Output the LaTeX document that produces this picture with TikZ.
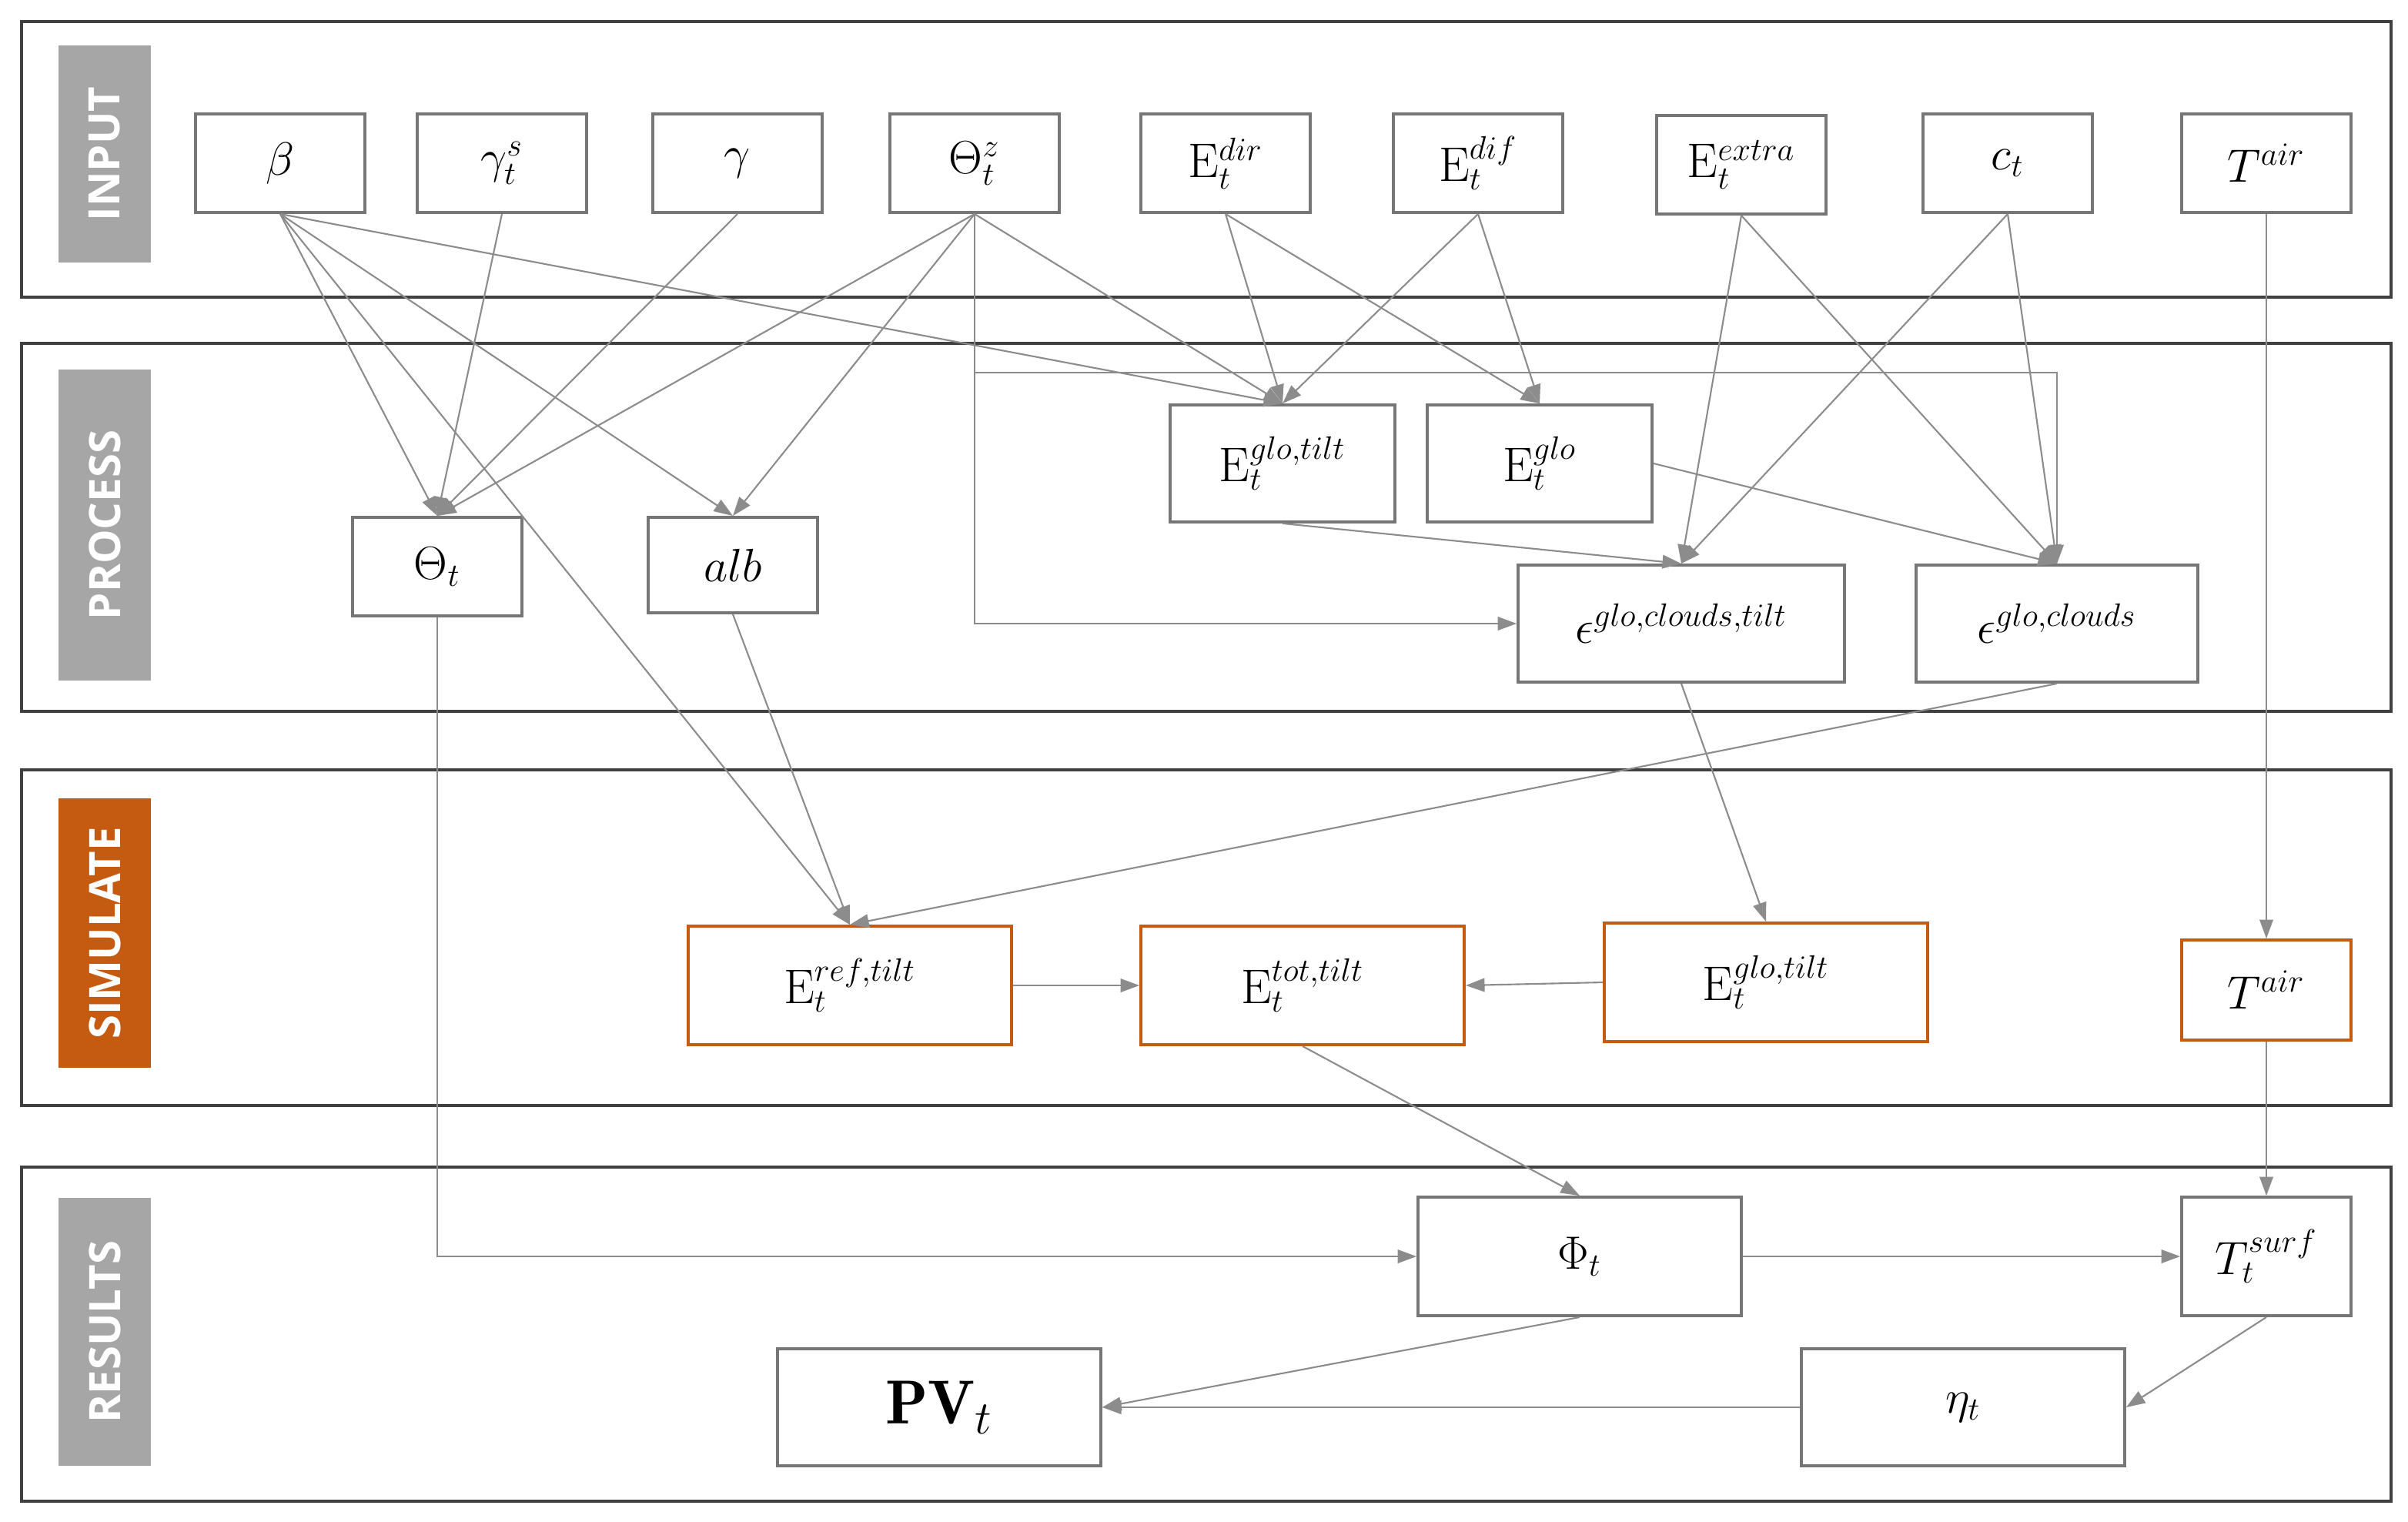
\documentclass[tikz,border=0pt]{standalone}
\usepackage{fontspec}
\newfontfamily\labfont{Open Sans}
\usetikzlibrary{arrows.meta}
\definecolor{bandc}{RGB}{64,64,64}
\definecolor{boxc}{RGB}{118,118,118}
\definecolor{edgec}{RGB}{140,140,140}
\definecolor{labg}{RGB}{166,166,166}
\definecolor{orng}{RGB}{197,90,17}
\begin{document}
\begin{tikzpicture}[x=0.02cm,y=-0.02cm,
 band/.style={draw=bandc,line width=1.3pt},
 lab/.style={fill=#1,text=white,minimum height=1.2cm,inner sep=0pt,rotate=90,font=\labfont\bfseries\fontsize{16}{19}\selectfont},
 box/.style={draw=boxc,line width=1.1pt,minimum width=2.2cm,minimum height=1.28cm,inner sep=0pt,font=\fontsize{18}{21}\selectfont},
 obox/.style={box,draw=orng},
 e/.style={draw=edgec,line width=0.6pt,-{Triangle[length=7pt,width=5pt]}}]
\useasboundingbox (0,0) rectangle (1564,988);
% bands
\draw[band] (14,14) rectangle (1553,193);
\draw[band] (14,223) rectangle (1553,462);
\draw[band] (14,500) rectangle (1553,718);
\draw[band] (14,758) rectangle (1553,975);
\node[lab=labg,minimum width=2.82cm] (l1) at (68,100) {INPUT};
\node[lab=labg,minimum width=4.04cm] (l2) at (68,341) {PROCESS};
\node[lab=orng,minimum width=3.5cm] (l3) at (68,606) {SIMULATE};
\node[lab=labg,minimum width=3.48cm] (l4) at (68,865) {RESULTS};
% input
\node[box] (beta) at (182,106) {$\beta$};
\node[box] (gs) at (326,106) {$\gamma_t^{s}$};
\node[box] (gam) at (479,106) {$\gamma$};
\node[box] (thz) at (633,106) {$\Theta_t^{z}$};
\node[box] (edir) at (796,106) {$\mathrm{E}_t^{dir}$};
\node[box] (edif) at (960,106) {$\mathrm{E}_t^{dif}$};
\node[box] (eext) at (1131,107) {$\mathrm{E}_t^{extra}$};
\node[box] (ct) at (1304,106) {$c_t$};
\node[box] (tair) at (1472,106) {$T^{air}$};
% process
\node[box,minimum width=2.92cm,minimum height=1.52cm] (egt) at (833,301) {$\mathrm{E}_t^{glo,tilt}$};
\node[box,minimum width=2.92cm,minimum height=1.52cm] (eglo) at (1000,301) {$\mathrm{E}_t^{glo}$};
\node[box] (tht) at (284,368) {$\Theta_t$};
\node[box,minimum height=1.24cm] (alb) at (476,367) {$alb$};
\node[box,minimum width=4.24cm,minimum height=1.52cm] (ect) at (1092,405) {$\epsilon^{glo,clouds,tilt}$};
\node[box,minimum width=3.66cm,minimum height=1.52cm] (ecl) at (1336,405) {$\epsilon^{glo,clouds}$};
% simulate
\node[obox,minimum width=4.2cm,minimum height=1.54cm] (eref) at (552,640) {$\mathrm{E}_t^{ref,tilt}$};
\node[obox,minimum width=4.2cm,minimum height=1.54cm] (etot) at (846,640) {$\mathrm{E}_t^{tot,tilt}$};
\node[obox,minimum width=4.2cm,minimum height=1.54cm] (egs) at (1147,638) {$\mathrm{E}_t^{glo,tilt}$};
\node[obox,minimum height=1.3cm] (tairs) at (1472,643) {$T^{air}$};
% results
\node[box,minimum width=4.2cm,minimum height=1.54cm] (phi) at (1026,816) {$\Phi_t$};
\node[box,minimum height=1.54cm] (tsurf) at (1472,816) {$T_t^{surf}$};
\node[box,minimum width=4.2cm,minimum height=1.52cm,font=\fontsize{23}{27}\selectfont] (pv) at (610,914) {$\mathbf{PV}_t$};
\node[box,minimum width=4.2cm,minimum height=1.52cm] (eta) at (1275,914) {$\eta_t$};
\coordinate (hz) at (633,242);
% edges
\draw[e] (beta.south) -- (tht.north);
\draw[e] (beta.south) -- (alb.north);
\draw[e] (beta.south) -- (egt.north);
\draw[e] (beta.south) -- (eref.north);
\draw[e] (gs.south) -- (tht.north);
\draw[e] (gam.south) -- (tht.north);
\draw[e] (thz.south) -- (tht.north);
\draw[e] (thz.south) -- (alb.north);
\draw[e] (thz.south) -- (egt.north);
\draw[e] (thz.south) -- (hz) -| (ecl.north);
\draw[e] (thz.south) |- (ect.west);
\draw[e] (edir.south) -- (egt.north);
\draw[e] (edir.south) -- (eglo.north);
\draw[e] (edif.south) -- (egt.north);
\draw[e] (edif.south) -- (eglo.north);
\draw[e] (eext.south) -- (ect.north);
\draw[e] (eext.south) -- (ecl.north);
\draw[e] (ct.south) -- (ect.north);
\draw[e] (ct.south) -- (ecl.north);
\draw[e] (tair.south) -- (tairs.north);
\draw[e] (egt.south) -- (ect.north);
\draw[e] (eglo.east) -- (ecl.north);
\draw[e] (tht.south) |- (phi.west);
\draw[e] (alb.south) -- (eref.north);
\draw[e] (ecl.south) -- (eref.north);
\draw[e] (ect.south) -- (egs.north);
\draw[e] (eref.east) -- (etot.west);
\draw[e] (egs.west) -- (etot.east);
\draw[e] (etot.south) -- (phi.north);
\draw[e] (tairs.south) -- (tsurf.north);
\draw[e] (phi.east) -- (tsurf.west);
\draw[e] (tsurf.south) -- (eta.east);
\draw[e] (eta.west) -- (pv.east);
\draw[e] (phi.south) -- (pv.east);
\end{tikzpicture}
\end{document}
